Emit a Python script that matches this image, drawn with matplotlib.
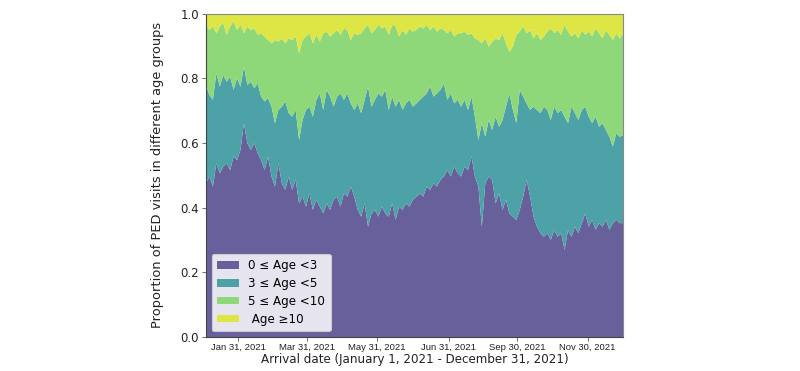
import matplotlib
matplotlib.use("Agg")
import matplotlib.pyplot as plt
import numpy as np

# day index (every 3 days, Jan 1 = 0)
days = list(range(0, 364, 3))

# cumulative boundary: top of "0 <= Age < 3"
b1 = [0.475, 0.496, 0.465, 0.537, 0.506, 0.527, 0.537, 0.516, 0.558, 0.547, 0.578, 0.661, 0.599,
      0.578, 0.599, 0.568, 0.547, 0.516, 0.558, 0.496, 0.465, 0.537, 0.475, 0.455, 0.496,
      0.455, 0.486, 0.413, 0.434, 0.403, 0.444, 0.393, 0.424, 0.403, 0.382, 0.413, 0.393,
      0.424, 0.434, 0.403, 0.444, 0.434, 0.465, 0.434, 0.393, 0.372, 0.413, 0.341, 0.382,
      0.393, 0.372, 0.403, 0.382, 0.372, 0.413, 0.362, 0.403, 0.393, 0.413, 0.403, 0.424,
      0.434, 0.444, 0.434, 0.465, 0.455, 0.475, 0.465, 0.486, 0.496, 0.516, 0.496, 0.527, 0.506,
      0.496, 0.527, 0.516, 0.558, 0.496, 0.465, 0.341, 0.475, 0.496, 0.486, 0.413, 0.444,
      0.393, 0.424, 0.382, 0.372, 0.362, 0.393, 0.434, 0.486, 0.434, 0.372, 0.341, 0.321, 0.310,
      0.321, 0.300, 0.331, 0.310, 0.321, 0.269, 0.331, 0.310, 0.341, 0.321, 0.352, 0.382,
      0.341, 0.362, 0.331, 0.352, 0.341, 0.362, 0.331, 0.352, 0.362, 0.352, 0.352]

# cumulative boundary: top of "3 <= Age < 5"
b2 = [0.779, 0.748, 0.733, 0.815, 0.774, 0.810, 0.789, 0.805, 0.764, 0.800, 0.774, 0.836, 0.779,
      0.789, 0.769, 0.784, 0.743, 0.728, 0.738, 0.712, 0.661, 0.702, 0.712, 0.728, 0.692,
      0.681, 0.702, 0.609, 0.671, 0.702, 0.712, 0.681, 0.733, 0.753, 0.702, 0.764, 0.743,
      0.712, 0.743, 0.753, 0.733, 0.753, 0.722, 0.702, 0.722, 0.692, 0.733, 0.774, 0.712,
      0.733, 0.753, 0.743, 0.764, 0.702, 0.743, 0.712, 0.733, 0.702, 0.722, 0.733, 0.712,
      0.722, 0.733, 0.743, 0.753, 0.774, 0.743, 0.753, 0.764, 0.784, 0.733, 0.753, 0.722, 0.733,
      0.712, 0.733, 0.702, 0.743, 0.681, 0.609, 0.661, 0.619, 0.671, 0.640, 0.681, 0.650,
      0.671, 0.712, 0.753, 0.702, 0.661, 0.764, 0.743, 0.722, 0.702, 0.712, 0.702, 0.692, 0.712,
      0.702, 0.671, 0.712, 0.692, 0.702, 0.681, 0.661, 0.712, 0.692, 0.671, 0.702, 0.712,
      0.681, 0.661, 0.681, 0.650, 0.661, 0.640, 0.619, 0.589, 0.630, 0.619, 0.624]

# cumulative boundary: top of "5 <= Age < 10"
b3 = [0.965, 0.949, 0.960, 0.939, 0.960, 0.970, 0.934, 0.960, 0.975, 0.949, 0.965, 0.939, 0.960,
      0.949, 0.954, 0.934, 0.939, 0.929, 0.918, 0.908, 0.918, 0.913, 0.923, 0.908, 0.923,
      0.918, 0.929, 0.877, 0.918, 0.929, 0.939, 0.908, 0.934, 0.913, 0.939, 0.944, 0.929,
      0.939, 0.949, 0.934, 0.954, 0.949, 0.918, 0.939, 0.934, 0.939, 0.954, 0.965, 0.939,
      0.949, 0.965, 0.954, 0.960, 0.934, 0.965, 0.960, 0.929, 0.949, 0.934, 0.954, 0.944,
      0.949, 0.960, 0.954, 0.965, 0.949, 0.960, 0.944, 0.954, 0.949, 0.939, 0.949, 0.929, 0.939,
      0.939, 0.944, 0.934, 0.939, 0.923, 0.918, 0.908, 0.923, 0.898, 0.913, 0.923, 0.918,
      0.939, 0.908, 0.882, 0.898, 0.934, 0.944, 0.960, 0.939, 0.949, 0.923, 0.939, 0.918, 0.929,
      0.944, 0.954, 0.939, 0.949, 0.934, 0.965, 0.944, 0.929, 0.939, 0.923, 0.949, 0.934,
      0.944, 0.929, 0.954, 0.939, 0.923, 0.949, 0.934, 0.918, 0.939, 0.923, 0.939]

labels = ["0 \u2264 Age <3", "3 \u2264 Age <5", "5 \u2264 Age <10", " Age \u226510"]
tick_days = [28, 88, 149, 211, 271, 332]
tick_labels = ["Jan 31, 2021", "Mar 31, 2021", "May 31, 2021", "Jun 31, 2021",
               "Sep 30, 2021", "Nov 30, 2021"]

x = np.array(days)
p0 = np.array(b1)
p1 = np.array(b2) - np.array(b1)
p2 = np.array(b3) - np.array(b2)
p3 = 1.0 - np.array(b3)

colors = ["#68609b", "#4ca2a6", "#8fd87a", "#dde644"]

fig = plt.figure(figsize=(8, 3.71), dpi=100)
ax = fig.add_axes([0.2575, 0.0916, 0.5215, 0.872])
ax.stackplot(x, p0, p1, p2, p3, colors=colors, labels=labels, linewidth=0)
ax.set_xlim(0, 363)
ax.set_ylim(0, 1.0)
ax.set_yticks([0.0, 0.2, 0.4, 0.6, 0.8, 1.0])
ax.set_yticklabels(["0.0", "0.2", "0.4", "0.6", "0.8", "1.0"], fontsize=8.5, color="#222222")
ax.set_xticks(tick_days)
ax.set_xticklabels(tick_labels, fontsize=6.8, family="Liberation Sans", color="#222222")
ax.tick_params(axis="both", length=3, width=0.6, color="#555555", pad=2)
ax.tick_params(axis="x", pad=1)
for s in ax.spines.values():
    s.set_color("#888888")
    s.set_linewidth(0.8)
ax.spines["left"].set_color("#444444")
ax.spines["bottom"].set_color("#444444")
ax.set_ylabel("Proportion of PED visits in different age groups", fontsize=9.4, color="#222222", labelpad=12)
ax.set_xlabel("Arrival date (January 1, 2021 - December 31, 2021)", fontsize=8.6, color="#222222", labelpad=1)
leg = ax.legend(loc="lower left", fontsize=8.6, frameon=True, facecolor="#e6e5ef",
                edgecolor="#cccccc", framealpha=1.0, handlelength=1.8, handleheight=0.6,
                borderpad=0.45, labelspacing=0.4, bbox_to_anchor=(0.0, 0.0))
leg.get_frame().set_linewidth(0.8)
fig.savefig("out.png", dpi=100)
